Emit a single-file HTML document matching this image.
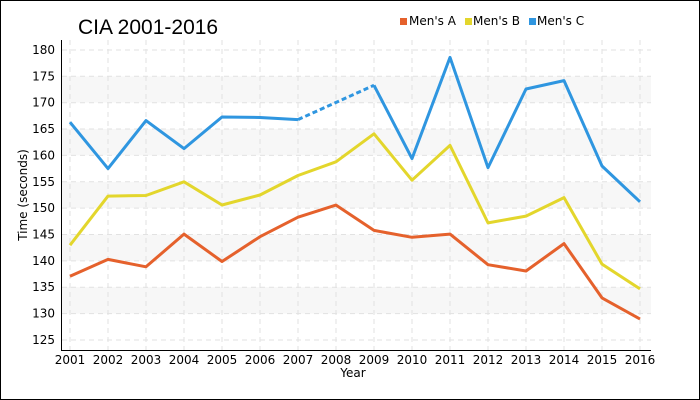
<!DOCTYPE html>
<html><head><meta charset="utf-8"><style>
body{margin:0;background:#fff}
svg{display:block;font-family:"DejaVu Sans","Liberation Sans",sans-serif}
</style></head><body>
<svg width="700" height="400" viewBox="0 0 700 400" xmlns="http://www.w3.org/2000/svg">
<rect x="0.5" y="0.5" width="699" height="399" fill="#fff" stroke="#000"/>
<g fill="#f7f7f7">
<rect x="62" y="76.3" width="589" height="26.4"/>
<rect x="62" y="129" width="589" height="26.4"/>
<rect x="62" y="181.8" width="589" height="26.4"/>
<rect x="62" y="234.5" width="589" height="26.4"/>
<rect x="62" y="287.2" width="589" height="26.4"/>
</g>
<g stroke="#e2e2e2" stroke-dasharray="5,4" stroke-width="1">
<line x1="62" x2="651" y1="50" y2="50"/><line x1="62" x2="651" y1="76.3" y2="76.3"/>
<line x1="62" x2="651" y1="102.7" y2="102.7"/><line x1="62" x2="651" y1="129" y2="129"/>
<line x1="62" x2="651" y1="155.4" y2="155.4"/><line x1="62" x2="651" y1="181.8" y2="181.8"/>
<line x1="62" x2="651" y1="208.1" y2="208.1"/><line x1="62" x2="651" y1="234.5" y2="234.5"/>
<line x1="62" x2="651" y1="260.9" y2="260.9"/><line x1="62" x2="651" y1="287.2" y2="287.2"/>
<line x1="62" x2="651" y1="313.6" y2="313.6"/><line x1="62" x2="651" y1="340" y2="340"/>
<line y1="40" y2="350" x1="70" x2="70"/><line y1="40" y2="350" x1="108" x2="108"/>
<line y1="40" y2="350" x1="146" x2="146"/><line y1="40" y2="350" x1="184" x2="184"/>
<line y1="40" y2="350" x1="222" x2="222"/><line y1="40" y2="350" x1="260" x2="260"/>
<line y1="40" y2="350" x1="298" x2="298"/><line y1="40" y2="350" x1="336" x2="336"/>
<line y1="40" y2="350" x1="374" x2="374"/><line y1="40" y2="350" x1="412" x2="412"/>
<line y1="40" y2="350" x1="450" x2="450"/><line y1="40" y2="350" x1="488" x2="488"/>
<line y1="40" y2="350" x1="526" x2="526"/><line y1="40" y2="350" x1="564" x2="564"/>
<line y1="40" y2="350" x1="602" x2="602"/><line y1="40" y2="350" x1="640" x2="640"/>
</g>
<g stroke="#000" stroke-width="1">
<line x1="61.5" y1="40" x2="61.5" y2="350.5"/><line x1="61" y1="350.5" x2="651" y2="350.5"/>
</g>
<g font-size="12" fill="#000" text-anchor="end">
<text x="55" y="54">180</text><text x="55" y="80.3">175</text><text x="55" y="106.7">170</text>
<text x="55" y="133">165</text><text x="55" y="159.4">160</text><text x="55" y="185.8">155</text>
<text x="55" y="212.1">150</text><text x="55" y="238.5">145</text><text x="55" y="264.9">140</text>
<text x="55" y="291.2">135</text><text x="55" y="317.6">130</text><text x="55" y="344">125</text>
</g>
<g font-size="12" fill="#000" text-anchor="middle">
<text x="70" y="364">2001</text><text x="108" y="364">2002</text><text x="146" y="364">2003</text>
<text x="184" y="364">2004</text><text x="222" y="364">2005</text><text x="260" y="364">2006</text>
<text x="298" y="364">2007</text><text x="336" y="364">2008</text><text x="374" y="364">2009</text>
<text x="412" y="364">2010</text><text x="450" y="364">2011</text><text x="488" y="364">2012</text>
<text x="526" y="364">2013</text><text x="564" y="364">2014</text><text x="602" y="364">2015</text>
<text x="640" y="364">2016</text>
<text x="353" y="377">Year</text>
<text transform="translate(27,195) rotate(-90)">Time (seconds)</text>
</g>
<text x="78" y="34" font-family="'Liberation Sans',sans-serif" font-size="21" fill="#000">CIA 2001-2016</text>
<g font-size="12" fill="#000">
<rect x="400" y="18" width="7" height="7" fill="#e5612c"/><text x="409" y="25">Men's A</text>
<rect x="465" y="18" width="7" height="7" fill="#e3d62c"/><text x="473" y="25">Men's B</text>
<rect x="529" y="18" width="7" height="7" fill="#2f96e0"/><text x="537" y="25">Men's C</text>
</g>
<g fill="none" stroke-width="3" stroke-linejoin="round">
<polyline stroke="#e5612c" points="70,276.3 108,259.4 146,266.8 184,234.1 222,261.5 260,236.7 298,217.2 336,205.1 374,230.4 412,237.3 450,234.1 488,264.7 526,271 564,243.6 602,297.9 640,319"/>
<polyline stroke="#e3d62c" points="70,245.2 108,196.1 146,195.5 184,181.8 222,205 260,195 298,175.5 336,161.8 374,133.8 412,180.2 450,145.4 488,222.9 526,216.1 564,197.6 602,264.1 640,288.9"/>
<polyline stroke="#2f96e0" points="70,122.2 108,168.6 146,120.6 184,148.6 222,117 260,117.5 298,119.6"/>
<polyline stroke="#2f96e0" stroke-dasharray="5,3" points="298,119.6 374,85.3"/>
<polyline stroke="#2f96e0" points="374,85.3 412,158.6 450,57.4 488,167.6 526,89 564,80.6 602,166 640,201.8"/>
</g>
</svg>
</body></html>
